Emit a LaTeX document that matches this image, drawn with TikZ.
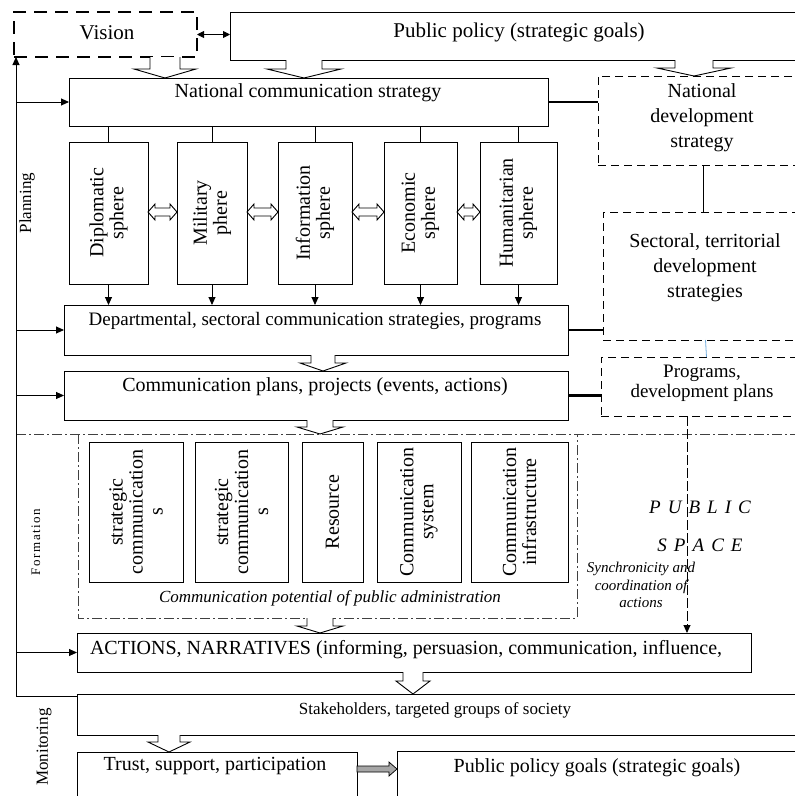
\documentclass[tikz,border=0pt]{standalone}
\usepackage{fontspec}
\setmainfont{Liberation Serif}
\usetikzlibrary{arrows.meta,calc}
\newcommand\hdarrow[6]{% x, ytop, ybot, yhead, stemhalf, headhalf
  \draw[hol] (#1-#5,#2) -- (#1-#5,#4) -- (#1-#6,#4) -- (#1,#3) -- (#1+#6,#4) -- (#1+#5,#4) -- (#1+#5,#2);}
\newcommand\hharrow[3]{% x1, x2, y
  \draw[hol] (#1,#3) -- (#1+7,#3-8) -- (#1+7,#3-4) -- (#2-7,#3-4) -- (#2-7,#3-8) -- (#2,#3) -- (#2-7,#3+8) -- (#2-7,#3+4) -- (#1+7,#3+4) -- (#1+7,#3+8) -- cycle;}
\begin{document}
\begin{tikzpicture}[x=1pt,y=-1pt,
  every node/.style={inner sep=0pt, outer sep=0pt},
  box/.style={draw, line width=0.9pt, rectangle},
  dbox/.style={draw, line width=0.9pt, dash pattern=on 8pt off 5pt},
  vbox/.style={draw, line width=1.8pt, dash pattern=on 13pt off 8pt},
  t21/.style={font=\fontsize{21}{25}\selectfont, align=center},
  t20/.style={font=\fontsize{20}{25}\selectfont, align=center},
  t19/.style={font=\fontsize{19}{20}\selectfont, align=center},
  t17/.style={font=\fontsize{17}{20}\selectfont, align=center},
  vt/.style={rotate=90, align=center, font=\fontsize{20}{20}\selectfont},
  ln/.style={line width=0.9pt},
  arr/.style={-{Triangle[length=8pt,width=7pt]}, line width=0.9pt},
  tline/.style={line width=2.2pt},
  hol/.style={draw, fill=white, line width=0.9pt, line join=miter},
  ddash/.style={dash pattern=on 10pt off 3pt on 2pt off 3pt, line width=1pt, draw=black!75},
  bluel/.style={line width=0.8pt, draw={rgb,255:red,110;green,170;blue,220}}
]
\useasboundingbox (0,0) rectangle (795,796);
\clip (0,0) rectangle (795,796);

% ---- top row
\node[vbox, minimum width=183pt, minimum height=45pt] (vision) at (105.5,34.5) {};
\node[t21] at (107,33) {Vision};
\node[box, minimum width=570pt, minimum height=48pt] (pp) at (515,36) {};
\node[t21] at (519,32) {Public policy (strategic goals)};
\draw[{Triangle[length=7pt,width=7pt]}-{Triangle[length=7pt,width=7pt]}, line width=0.9pt] (vision.east) -- (vision.east -| pp.west);

% ---- national communication strategy
\node[box, minimum width=479pt, minimum height=48pt] (ncs) at (308.5,102) {};
\node[t20] at (308,93) {National communication strategy};
\node[dbox, minimum width=202pt, minimum height=89pt] (nds) at (699,120.5) {};
\node[t20] at (702,118) {National\\development\\strategy};
\draw[tline] (ncs.east) -- (ncs.east -| nds.west);

\hdarrow{165}{57}{78}{69}{15}{31}
\hdarrow{304}{60}{78}{69}{18}{37}
\hdarrow{694}{60}{76}{68}{19}{37}

% ---- sectoral
\node[dbox, minimum width=197pt, minimum height=128pt] (sect) at (701.5,276) {};
\node[t20] at (705,268) {Sectoral, territorial\\development\\strategies};
\draw[ln] ([xshift=4pt]nds.south) -- ([xshift=4pt]nds.south |- sect.north);

% ---- spheres
\node[box, minimum width=79pt, minimum height=142pt] (dip) at (108.5,213) {};
\node[vt] at (dip) {Diplomatic\\sphere};
\node[box, minimum width=70pt, minimum height=142pt] (mil) at (212,213) {};
\node[vt] at (mil) {Military\\phere};
\node[box, minimum width=74pt, minimum height=142pt] (inf) at (315,213) {};
\node[vt] at (inf) {Information\\sphere};
\node[box, minimum width=73pt, minimum height=142pt] (eco) at (420.5,213) {};
\node[vt] at (eco) {Economic\\sphere};
\node[box, minimum width=77pt, minimum height=142pt] (hum) at (518.5,213) {};
\node[vt] at (hum) {Humanitarian\\sphere};

\foreach \s in {dip,mil,inf,eco,hum}{
  \draw[ln] (\s.north |- ncs.south) -- (\s.north);
}
\hharrow{148}{177}{212}
\hharrow{247}{278}{212}
\hharrow{352}{384}{212}
\hharrow{457}{480}{212}

% ---- departmental
\node[box, minimum width=504pt, minimum height=50pt] (dept) at (316,330) {};
\node[t19] at (315,321) {Departmental, sectoral communication strategies, programs};
\draw[tline] (dept.east) -- (dept.east -| sect.west);
\foreach \s in {dip,mil,inf,eco,hum}{
  \draw[arr] (\s.south) -- (\s.south |- dept.north);
}

% ---- plans
\hdarrow{323}{355}{371}{363}{12}{23}
\node[box, minimum width=504pt, minimum height=49pt] (plans) at (316,395.5) {};
\node[t20] at (315,387) {Communication plans, projects (events, actions)};
\node[dbox, minimum width=199pt, minimum height=59pt] (progs) at (700.5,386.5) {};
\node[t19] at (702,383) {Programs,\\development plans};
\draw[tline] (plans.east) -- (plans.east -| progs.west);
\draw[bluel] ([xshift=4pt]sect.south) -- ([xshift=6pt]progs.north);

% ---- communication potential region
\draw[ddash] (16,434) -- (795,434);
\draw[ddash] (78,434) -- (78,618) -- (577,618) -- (577,434);
\hdarrow{320}{420}{434}{427}{13}{23}

\node[box, minimum width=94pt, minimum height=140pt] (c1) at (136,512) {};
\node[vt] at (c1) {strategic\\communication\\s};
\node[box, minimum width=93pt, minimum height=140pt] (c2) at (241.5,512) {};
\node[vt] at (c2) {strategic\\communication\\s};
\node[box, minimum width=61pt, minimum height=140pt] (c3) at (332.5,512) {};
\node[vt] at (c3) {Resource};
\node[box, minimum width=84pt, minimum height=140pt] (c4) at (419,512) {};
\node[vt] at (c4) {Communication\\system};
\node[box, minimum width=97pt, minimum height=140pt] (c5) at (519.5,512) {};
\node[vt] at (c5) {Communication\\infrastructure};

\node[font=\fontsize{17}{20}\selectfont\itshape] at (330,598) {Communication potential of public administration};
\node[font=\fontsize{19}{20}\selectfont\itshape\addfontfeature{LetterSpace=12}] at (700,507) {P U B L I C};
\node[font=\fontsize{19}{20}\selectfont\itshape\addfontfeature{LetterSpace=12}] at (700,545) {S P A C E};
\node[font=\fontsize{15}{17.5}\selectfont\itshape, align=center] at (641,585) {Synchronicity and\\coordination of\\actions};

% ---- actions
\node[box, minimum width=674pt, minimum height=39pt] (actions) at (414,652.5) {};
\node[t20, anchor=west] at (90,650) {ACTIONS, NARRATIVES (informing, persuasion, communication, influence,};
\hdarrow{320}{618}{633}{626}{13}{23}
\draw[arr, dash pattern=on 10pt off 3pt] ([xshift=-13.5pt]progs.south) -- ([xshift=-13.5pt]progs.south |- actions.north);

% ---- stakeholders
\node[box, minimum width=723pt, minimum height=41pt] (stake) at (438.5,714.5) {};
\node[t17] at (435,710) {Stakeholders, targeted groups of society};
\hdarrow{413}{672}{694}{681}{10}{17}

% ---- trust / goals
\node[box, minimum width=280pt, minimum height=48pt] (trust) at (217,776) {};
\node[t20] at (215,766) {Trust, support, participation};
\node[box, minimum width=403pt, minimum height=49pt] (goals) at (598.5,775.5) {};
\node[t20] at (597,768) {Public policy goals (strategic goals)};
\hdarrow{169}{735}{752}{742}{11}{21}
\draw[fill=black!35, line width=0.7pt] (357,766) -- (389,766) -- (389,762) -- (397,769) -- (389,776) -- (389,772) -- (357,772) -- cycle;

% ---- feedback line
\coordinate (fb) at (16,696);
\draw[ln] ([yshift=-2pt]stake.north west) -- (fb);
\draw[arr] (fb) -- (fb |- vision.south);
\foreach \s in {ncs,dept,plans,actions}{
  \draw[arr] (fb |- \s.west) -- (\s.west);
}

% ---- side labels
\node[rotate=90, font=\fontsize{17}{17}\selectfont] at (27,203) {Planning};
\node[rotate=90, font=\fontsize{13}{13}\selectfont\addfontfeature{LetterSpace=12}] at (36,542) {Formation};
\node[rotate=90, font=\fontsize{17}{17}\selectfont] at (44,747) {Monitoring};
\end{tikzpicture}
\end{document}
